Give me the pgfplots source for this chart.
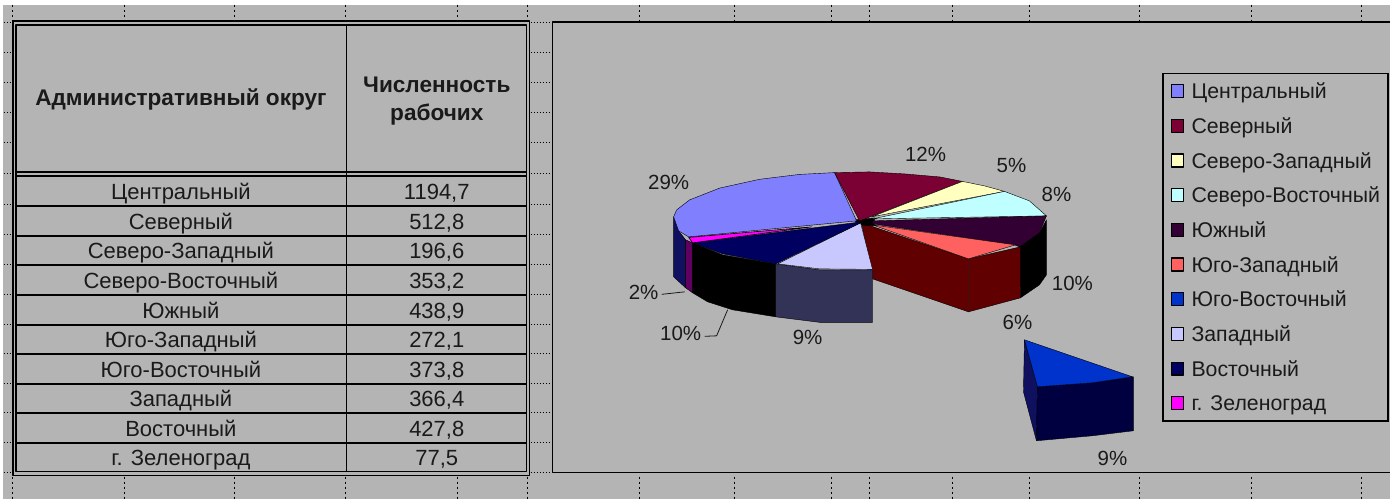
\documentclass[border=0pt]{standalone}
\usepackage{fontspec}
\setmainfont{Liberation Sans}
\usepackage{pgfplots}
\pgfplotsset{compat=1.18}
\definecolor{bg}{HTML}{B4B4B4}
\definecolor{txt}{HTML}{1A1A1A}
\definecolor{cC}{HTML}{8080FF}\definecolor{cN}{HTML}{7B0034}
\definecolor{cNW}{HTML}{FFFFC0}\definecolor{cNE}{HTML}{C0FFFF}
\definecolor{cS}{HTML}{330033}\definecolor{cSW}{HTML}{FF6060}
\definecolor{cSE}{HTML}{0033CC}\definecolor{cW}{HTML}{C8C8FF}
\definecolor{cE}{HTML}{000060}\definecolor{cZ}{HTML}{FF00FF}
\definecolor{sC}{HTML}{101060}\definecolor{sZ}{HTML}{600060}
\definecolor{sW}{HTML}{333358}\definecolor{sSW}{HTML}{600000}
\definecolor{sSE}{HTML}{000040}\definecolor{sSEl}{HTML}{101060}
\newcommand{\fnt}{\fontsize{22}{24}\selectfont}
\newcommand{\fntb}{\fontsize{22.6}{24}\selectfont\bfseries}
\newcommand{\fntl}{\fontsize{21.3}{24}\selectfont}
\newcommand{\fntp}{\fontsize{20.5}{24}\selectfont}
\begin{document}
\begin{tikzpicture}
\begin{axis}[
  scale only axis, width=1391pt, height=499pt,
  xmin=0, xmax=1391, ymin=0, ymax=499, y dir=reverse,
  axis lines=none, clip=false, unbounded coords=jump,
  every axis plot/.append style={line join=round},
  legend image code/.code={\draw[#1,line width=1.3pt,draw=black] (0pt,-6.5pt) rectangle (12pt,6.5pt);\path (19pt,0pt);},
  legend cell align=left,
  legend style={at={(axis cs:1163,73)},anchor=north west,draw=black,line width=1.5pt,fill=none,
    font=\fntl\color{txt},inner xsep=8pt,inner ysep=7pt,row sep=13.7pt,
    nodes={inner sep=0pt,text height=18pt,text depth=3pt}},
]
% page and background
\addplot[fill=white,draw=none,forget plot] coordinates {(0,0)(1391,0)(1391,499)(0,499)} --cycle;
\addplot[fill=bg,draw=none,forget plot] coordinates {(3,5)(1391,5)(1391,499)(3,499)} --cycle;
% legend entries, in the chart's order
\addlegendimage{fill=cC}\addlegendentry{Центральный}
\addlegendimage{fill=cN}\addlegendentry{Северный}
\addlegendimage{fill=cNW}\addlegendentry{Северо-Западный}
\addlegendimage{fill=cNE}\addlegendentry{Северо-Восточный}
\addlegendimage{fill=cS}\addlegendentry{Южный}
\addlegendimage{fill=cSW}\addlegendentry{Юго-Западный}
\addlegendimage{fill=cSE}\addlegendentry{Юго-Восточный}
\addlegendimage{fill=cW}\addlegendentry{Западный}
\addlegendimage{fill=cE}\addlegendentry{Восточный}
\addlegendimage{fill=cZ}\addlegendentry{г. Зеленоград}
% dotted sheet grid
\addplot[black,line width=1pt,dash pattern=on 2pt off 3pt,forget plot] coordinates {
(125,5)(125,21)(125,nan)(235,5)(235,21)(235,nan)(346,5)(346,21)(346,nan)(458,5)(458,21)(458,nan)
(528,5)(528,21)(528,nan)(640,5)(640,21)(640,nan)(735,5)(735,21)(735,nan)(832,5)(832,21)(832,nan)
(870,5)(870,21)(870,nan)(953,5)(953,21)(953,nan)(1030,5)(1030,21)(1030,nan)(1140,5)(1140,21)(1140,nan)
(1252,5)(1252,21)(1252,nan)(1362,5)(1362,21)(1362,nan)(13,5)(13,21)(13,nan)
(13,477)(13,499)(13,nan)(125,477)(125,499)(125,nan)(235,477)(235,499)(235,nan)(346,477)(346,499)(346,nan)
(458,477)(458,499)(458,nan)(528,477)(528,499)(528,nan)(640,477)(640,499)(640,nan)(735,477)(735,499)(735,nan)
(832,477)(832,499)(832,nan)(870,477)(870,499)(870,nan)(953,477)(953,499)(953,nan)(1030,477)(1030,499)(1030,nan)
(1140,477)(1140,499)(1140,nan)(1252,477)(1252,499)(1252,nan)(1362,477)(1362,499)
};
\addplot[black,line width=1pt,dash pattern=on 1.5pt off 1.5pt,forget plot] coordinates {
(4,23)(12,23)(12,nan)(4,53)(12,53)(12,nan)(4,83)(12,83)(12,nan)(4,113)(12,113)(12,nan)(4,143)(12,143)(12,nan)
(4,174)(12,174)(12,nan)(4,205)(12,205)(12,nan)(4,235)(12,235)(12,nan)(4,265)(12,265)(12,nan)(4,295)(12,295)(12,nan)
(4,325)(12,325)(12,nan)(4,354)(12,354)(12,nan)(4,384)(12,384)(12,nan)(4,413)(12,413)(12,nan)(4,443)(12,443)(12,nan)(4,473)(12,473)(12,nan)
(531,23)(552,23)(552,nan)(531,53)(552,53)(552,nan)(531,83)(552,83)(552,nan)(531,113)(552,113)(552,nan)(531,143)(552,143)(552,nan)
(531,174)(552,174)(552,nan)(531,205)(552,205)(552,nan)(531,235)(552,235)(552,nan)(531,265)(552,265)(552,nan)(531,295)(552,295)(552,nan)
(531,325)(552,325)(552,nan)(531,354)(552,354)(552,nan)(531,384)(552,384)(552,nan)(531,413)(552,413)(552,nan)(531,443)(552,443)(552,nan)(531,473)(552,473)
};
% table frame
\addplot[black,line width=1.5pt,forget plot] coordinates {(13,21)(530,21)(530,476)(13,476)} --cycle;
\addplot[black,line width=1.5pt,forget plot] coordinates {(16,25)(527,25)(527,472)(16,472)} --cycle;
\addplot[black,line width=1.5pt,forget plot] coordinates {
(16,172)(527,172)(527,nan)(16,176)(527,176)(527,nan)(16,206)(527,206)(527,nan)(16,236)(527,236)(527,nan)
(16,265)(527,265)(527,nan)(16,295)(527,295)(527,nan)(16,325)(527,325)(527,nan)(16,354)(527,354)(527,nan)
(16,384)(527,384)(527,nan)(16,413)(527,413)(527,nan)(16,443)(527,443)(527,nan)(346.5,25)(346.5,472)};
% chart frame
\addplot[black,line width=1.5pt,forget plot] coordinates {(1391,22)(553,22)(553,473)(1391,473)};
% pie sides
\addplot[fill=sC,draw=black,forget plot] coordinates {(674,217)(679,231)(686,240)(686,288)(674,277)} --cycle;
\addplot[fill=sZ,draw=black,forget plot] coordinates {(686,240)(693,243)(693,293)(686,288)} --cycle;
\addplot[fill=black,draw=black,forget plot] coordinates {(693,243)(723,255)(776,264)(776,317)(733,310)(708,302)(693,293)} --cycle;
\addplot[fill=black,draw=black,forget plot] coordinates {(1020,247)(1040,233)(1047,220)(1047,275)(1040,285)(1021,298)} --cycle;
\addplot[fill=sSW,draw=black,forget plot] coordinates {(862,223)(969,259)(969,312)(873,279)} --cycle;
\addplot[fill=sSW,draw=black,forget plot] coordinates {(969,259)(1021,247)(1021,298)(969,312)} --cycle;
\addplot[fill=sW,draw=black,forget plot] coordinates {(776,264)(820,270)(873,270)(873,322.5)(820,322.5)(776,317)} --cycle;
% pie tops
\addplot[fill=black,draw=black,forget plot] coordinates {(855,220)(875,218)(875,226)(858,225)} --cycle;
\addplot[fill=cC,draw=black,forget plot] coordinates {(857,221)(835,172.7)(800,174.5)(760,179.4)(720,188.2)(690,200)(677,210)(674,217)(679,231)(689,237)} --cycle;
\addplot[fill=cN,draw=black,forget plot] coordinates {(860,221)(835,172.7)(870,172)(905,174)(940,177)(963,181.5)} --cycle;
\addplot[fill=cNW,draw=black,forget plot] coordinates {(872,217)(963,181.5)(985,186)(1005,191.5)} --cycle;
\addplot[fill=cNE,draw=black,forget plot] coordinates {(873,219)(1005,191.5)(1030,201)(1047,216)} --cycle;
\addplot[fill=cS,draw=black,forget plot] coordinates {(873,221)(1047,216)(1040,233)(1020,247)(1015,245)(873,224)} --cycle;
\addplot[fill=cSW,draw=black,forget plot] coordinates {(873,225)(1016,245)(969,259)} --cycle;
\addplot[fill=cW,draw=black,forget plot] coordinates {(861,223)(778,264)(820,269)(873,269.5)} --cycle;
\addplot[fill=cE,draw=black,forget plot] coordinates {(858,222.5)(693,243)(723,254)(776,264)(861,223)} --cycle;
\addplot[fill=cZ,draw=black,line width=0.6pt,forget plot] coordinates {(812,227)(689,237.5)(693,243)} --cycle;
% detached slice
\addplot[fill=sSEl,draw=black,forget plot] coordinates {(1025,340)(1038,387)(1037,441)(1024,392)} --cycle;
\addplot[fill=sSE,draw=black,forget plot] coordinates {(1038,387)(1093,383)(1134,377)(1134,431)(1093,436)(1037,441)} --cycle;
\addplot[fill=cSE,draw=black,forget plot] coordinates {(1025,340)(1133,377)(1093,383)(1038,387)} --cycle;
% leader lines
\addplot[txt,line width=0.8pt,forget plot] coordinates {(662,294.5)(685,292)};
\addplot[txt,line width=0.8pt,forget plot] coordinates {(705,336.5)(717,336)(728,310)};
% texts
\begin{scope}[every node/.append style={font=\fnt,text=txt,inner sep=0pt,anchor=base}]
\node[font=\fntb] at (axis cs:181,106) {Административный округ};
\node[font=\fntb] at (axis cs:437,93) {Численность};
\node[font=\fntb] at (axis cs:437,121) {рабочих};
\node at (axis cs:181,200) {Центральный};\node at (axis cs:437,200) {1194,7};
\node at (axis cs:181,230) {Северный};\node at (axis cs:437,230) {512,8};
\node at (axis cs:181,259) {Северо-Западный};\node at (axis cs:437,259) {196,6};
\node at (axis cs:181,289) {Северо-Восточный};\node at (axis cs:437,289) {353,2};
\node at (axis cs:181,319) {Южный};\node at (axis cs:437,319) {438,9};
\node at (axis cs:181,348) {Юго-Западный};\node at (axis cs:437,348) {272,1};
\node at (axis cs:181,378) {Юго-Восточный};\node at (axis cs:437,378) {373,8};
\node at (axis cs:181,407) {Западный};\node at (axis cs:437,407) {366,4};
\node at (axis cs:181,437) {Восточный};\node at (axis cs:437,437) {427,8};
\node at (axis cs:181,466) {г. Зеленоград};\node at (axis cs:437,466) {77,5};
\end{scope}
\begin{scope}[every node/.append style={font=\fntp,text=txt,inner sep=0pt,anchor=center}]
\node at (axis cs:669,183) {29\%};
\node at (axis cs:926,154) {12\%};
\node at (axis cs:1012,166) {5\%};
\node at (axis cs:1057,195) {8\%};
\node at (axis cs:1073,284) {10\%};
\node at (axis cs:1018,323) {6\%};
\node at (axis cs:808,338) {9\%};
\node at (axis cs:1113,459) {9\%};
\node at (axis cs:681,334) {10\%};
\node at (axis cs:644,293) {2\%};
\end{scope}
\end{axis}
\end{tikzpicture}
\end{document}
